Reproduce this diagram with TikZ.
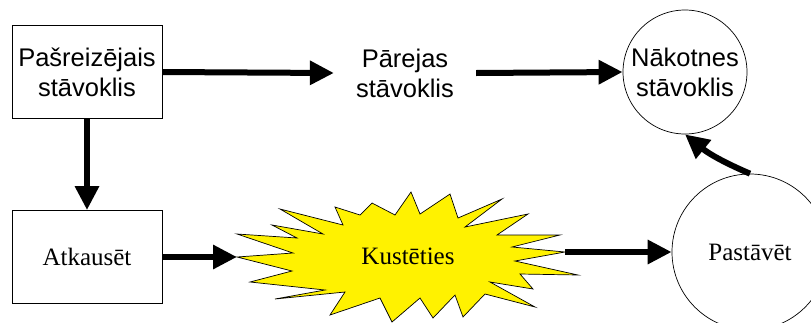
\documentclass[tikz,border=0pt]{standalone}
\usepackage{fontspec}
\setmainfont{Liberation Serif}
\newfontfamily\arialfont{Liberation Sans}
\usetikzlibrary{arrows.meta}
\tikzset{every picture/.style={x=1pt,y=-1pt},
  sanstext/.style={font=\arialfont\fontsize{25.5}{30}\selectfont, align=center},
  seriftext/.style={font=\fontsize{25}{30}\selectfont, align=center},
  statebox/.style={draw, line width=0.8pt, minimum width=150pt, minimum height=93pt},
  statecirc/.style={draw, line width=0.7pt, circle, inner sep=0pt},
  burst/.style={draw, fill=yellow, line width=0.7pt, line join=miter},
  flow/.style={line width=6pt, -{Triangle[length=24pt,width=23pt]}}}

\begin{document}
\begin{tikzpicture}
  \clip (0,0) rectangle (811,322);
  \node[statebox, sanstext] (cur) at (87,72) {Pašreizējais\\stāvoklis};
  \node[sanstext, inner xsep=22pt] (par) at (405,73) {Pārejas\\stāvoklis};
  \node[statecirc, sanstext, minimum size=124pt] (nak) at (685,72) {Nākotnes\\stāvoklis};
  \node[statebox, seriftext] (atk) at (87,257) {Atkausēt};

  % the burst around Kustēties
  \begin{scope}[shift={(408,256)}]
    \filldraw[burst] (-171,1) coordinate (kusw) -- (-115,-3) -- (-171,-22) -- (-111,-18)
      -- (-136,-31) -- (-85,-22) -- (-128,-47) -- (-65,-31) -- (-73,-49) -- (-48,-41)
      -- (-36,-53) -- (-13,-41) -- (3,-64) -- (12,-42) -- (42,-62) -- (50,-38)
      -- (94,-57) -- (57,-29) -- (120,-42) -- (89,-21) -- (152,-21) -- (104,-9)
      -- (157,-4) coordinate (kuse) -- (107,5) -- (170,19) -- (112,18) -- (125,33) -- (82,26)
      -- (127,51) -- (77,38) -- (55,61) -- (47,39) -- (25,62) -- (12,42)
      -- (-16,66) -- (-28,42) -- (-78,59) -- (-63,36) -- (-133,43) -- (-83,34)
      -- (-158,26) -- (-116,15) -- cycle;
  \end{scope}
  \node[seriftext] (kus) at (408,256) {Kustēties};
  \node[statecirc, seriftext, minimum size=156pt] (pst) at (750,252) {Pastāvēt};

  \foreach \from/\to in {cur.east/par.west, par.east/nak.west, cur.south/atk.north, atk.east/kusw, kuse/pst.west}
    \draw[flow] (\from) -- (\to);
  \draw[flow] (pst.north) to[bend left=8] (nak.south);
\end{tikzpicture}
\end{document}
